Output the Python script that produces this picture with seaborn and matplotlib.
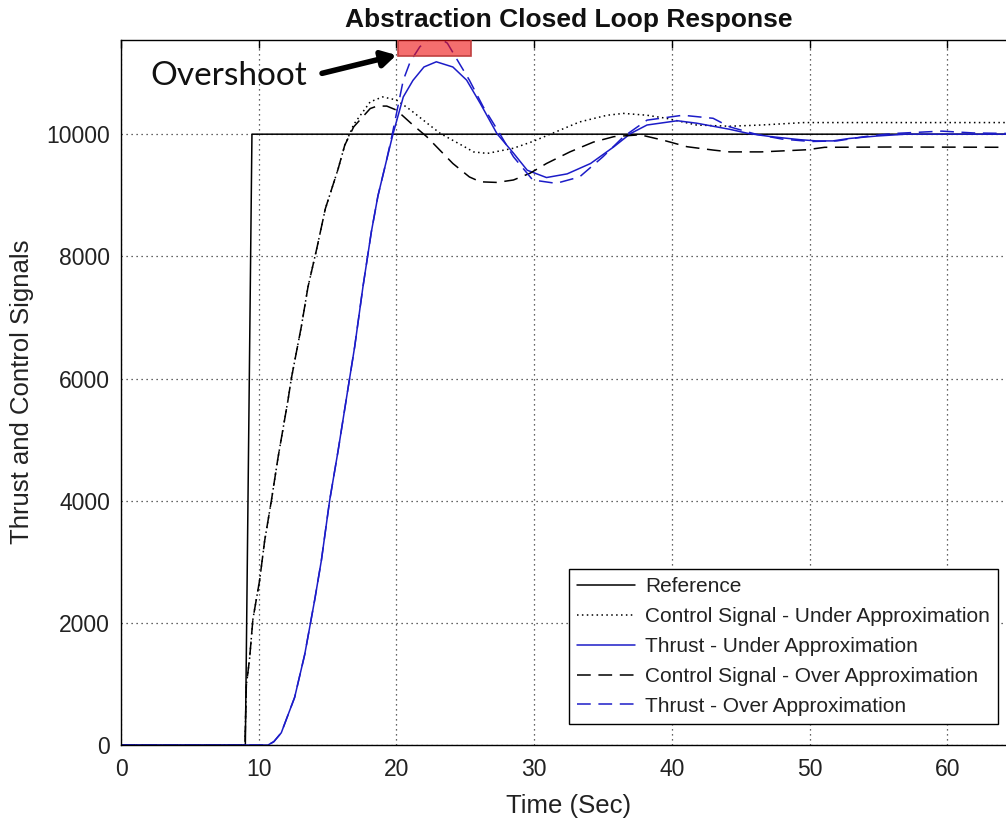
import numpy as np
import pandas as pd
import matplotlib
matplotlib.use("Agg")
import matplotlib.pyplot as plt
import matplotlib.patches as patches
import seaborn as sns

# ---------------- data ----------------
ref_t = [0, 9.03, 9.51, 65]
ref_y = [0, 0, 10000, 10000]

# shared rising part of both control signals
ctrl_rise_t = [0, 9.0, 9.03, 9.1, 9.34, 9.58, 10.07, 10.43, 10.92, 11.4, 12.13,
               12.37, 13.1, 13.58, 14.23, 14.84, 15.76, 16.25]
ctrl_rise_y = [0, 0, 270, 970, 1420, 2060, 2700, 3340, 4000, 4700, 5650,
               6000, 6855, 7500, 8140, 8780, 9425, 9820]

cu_t = [16.9, 18.1, 19.0, 20.0, 21.0, 22.4, 23.2, 24.9, 25.6, 26.6, 28.5, 29.9,
        31.6, 33.3, 35.3, 36.5, 38.2, 39.6, 41.8, 44.2, 46.5, 49.6, 55, 65]
cu_y = [10160, 10530, 10610, 10560, 10400, 10150, 10010, 9800, 9710, 9685, 9770, 9880,
        10040, 10200, 10310, 10340, 10310, 10260, 10150, 10130, 10150, 10190, 10190, 10190]

co_t = [16.9, 18.1, 18.6, 19.3, 20.0, 21.2, 22.2, 24.1, 25.3, 26.1, 27.3, 28.5, 29.7,
        30.9, 32.6, 34.3, 35.8, 37.7, 39.4, 41.1, 43.0, 44.2, 46.5, 48.4, 49.8, 51.1, 56, 65]
co_y = [10120, 10420, 10460, 10460, 10395, 10150, 9960, 9520, 9300, 9220, 9210, 9250, 9360,
        9520, 9710, 9870, 9960, 9990, 9900, 9795, 9740, 9710, 9710, 9730, 9745, 9785, 9790, 9785]

# thrust, shared rising part
thr_rise_t = [0, 10.68, 11.1, 11.64, 12.61, 13.34, 14.07, 14.55, 15.15, 15.76,
              16.6, 16.97, 17.57, 18.18, 18.66, 19.27]
thr_rise_y = [0, 0, 55, 200, 780, 1480, 2380, 3020, 4000, 4810,
              6000, 6520, 7500, 8400, 8990, 9560]

tu_t = [19.75, 20.5, 21.2, 22.0, 22.9, 24.1, 25.1, 26.1, 27.3, 28.5, 29.5, 30.9, 32.4,
        34.1, 35.8, 37.0, 38.2, 40.4, 41.8, 44.2, 45.6, 47.2, 49.3, 50.5, 51.7, 52.9,
        54.9, 57, 65]
tu_y = [10000, 10610, 10880, 11100, 11185, 11100, 10885, 10500, 10010, 9690, 9410, 9290, 9350,
        9520, 9795, 10010, 10150, 10220, 10180, 10080, 10010, 9960, 9910, 9890, 9890, 9930,
        9970, 10000, 10000]

to_t = [19.7, 20.5, 21.0, 21.7, 22.2, 22.8, 23.7, 24.5, 25.3, 26.3, 27.5, 28.5, 29.9,
        31.6, 33.3, 35.0, 36.5, 38.2, 40.8, 43.0, 44.2, 46.1, 48.0, 50.1, 52.0, 54.0,
        56.0, 59.6, 61.9, 65]
to_y = [10000, 10885, 11185, 11430, 11530, 11620, 11490, 11185, 10885, 10450, 10010, 9630, 9250,
        9195, 9300, 9630, 9960, 10230, 10310, 10260, 10120, 10000, 9920, 9880, 9890, 9960,
        10010, 10050, 10020, 10010]

labels = ["Reference",
          "Control Signal - Under Approximation",
          "Thrust - Under Approximation",
          "Control Signal - Over Approximation",
          "Thrust - Over Approximation"]

x_ticks = [0, 10, 20, 30, 40, 50, 60]
y_ticks = [0, 2000, 4000, 6000, 8000, 10000]

title = "Abstraction Closed Loop Response"
xlabel = "Time (Sec)"
ylabel = "Thrust and Control Signals"
note = "Overshoot"

# ---------------- style ----------------
sns.set_theme(style="white")
plt.rcParams["font.family"] = ["Liberation Sans", "DejaVu Sans"]

W, H = 1006, 824
fig = plt.figure(figsize=(W / 100, H / 100), dpi=100)
ax = fig.add_axes([121 / W, 79 / H, 65 * 13.77 / W, 705.5 / H])

BLUE = "#1c1cc8"
DASH = (0, (9, 5))
DOT = (0, (1, 2.2))

series = [
    (ref_t, ref_y, "black", "-"),
    (ctrl_rise_t + cu_t, ctrl_rise_y + cu_y, "black", DOT),
    (thr_rise_t + tu_t, thr_rise_y + tu_y, BLUE, "-"),
    (ctrl_rise_t + co_t, ctrl_rise_y + co_y, "black", DASH),
    (thr_rise_t + to_t, thr_rise_y + to_y, BLUE, DASH),
]
handles = []
for (t, y, c, ls), lab in zip(series, labels):
    df = pd.DataFrame({"t": t, "y": y})
    sns.lineplot(data=df, x="t", y="y", ax=ax, color=c, linestyle=ls, lw=1.1,
                 sort=False, estimator=None, label=lab, legend=False)
    handles.append(ax.get_lines()[-1])

ax.set_xlim(0, 65)
ax.set_ylim(0, 11550)
ax.set_xticks(x_ticks)
ax.set_yticks(y_ticks)
ax.grid(True, linestyle=(0, (1, 3)), color="#333333", lw=0.9)
for s in ax.spines.values():
    s.set_visible(True)
    s.set_color("black")
    s.set_linewidth(1.0)
ax.tick_params(direction="in", length=6, width=1, top=True, right=True,
               labelsize=16.5, colors="black", labelcolor="#222222")
ax.tick_params(axis="x", pad=9)
ax.tick_params(axis="y", pad=8)

ax.set_title(title, fontsize=19, fontweight="bold", pad=9, color="#111111")
ax.set_xlabel(xlabel, fontsize=18.5, color="#222222")
ax.set_ylabel(ylabel, fontsize=18.5, color="#222222")
ax.xaxis.set_label_coords(0.5, -0.07)
ax.yaxis.set_label_coords(-0.097, 0.5)

# overshoot highlight
rect = patches.Rectangle((20.1, 11280), 5.3, 400, facecolor=(0.93, 0.05, 0.05, 0.6),
                         edgecolor="#c04040", lw=1.2, zorder=5)
ax.add_patch(rect)
ax.annotate("", xy=(20.0, 11295), xytext=(14.6, 10996),
            arrowprops=dict(arrowstyle="-|>,head_length=0.7,head_width=0.4",
                            lw=4, color="black", shrinkA=0, shrinkB=0), zorder=6)
ax.text(2.1, 10804, note, fontsize=24, family=["Lato", "DejaVu Sans"],
        color="#111111", va="baseline", ha="left", zorder=6)

leg = ax.legend(handles, labels, loc="lower right",
                bbox_to_anchor=(998 / W, 100 / H), bbox_transform=fig.transFigure,
                borderaxespad=0, fontsize=15, handlelength=2.8, handletextpad=0.45,
                labelspacing=0.52, borderpad=0.4, frameon=True, fancybox=False,
                framealpha=1, edgecolor="black")
leg.get_frame().set_linewidth(1.0)
for txt in leg.get_texts():
    txt.set_color("#222222")

fig.savefig("out.png", dpi=100)
